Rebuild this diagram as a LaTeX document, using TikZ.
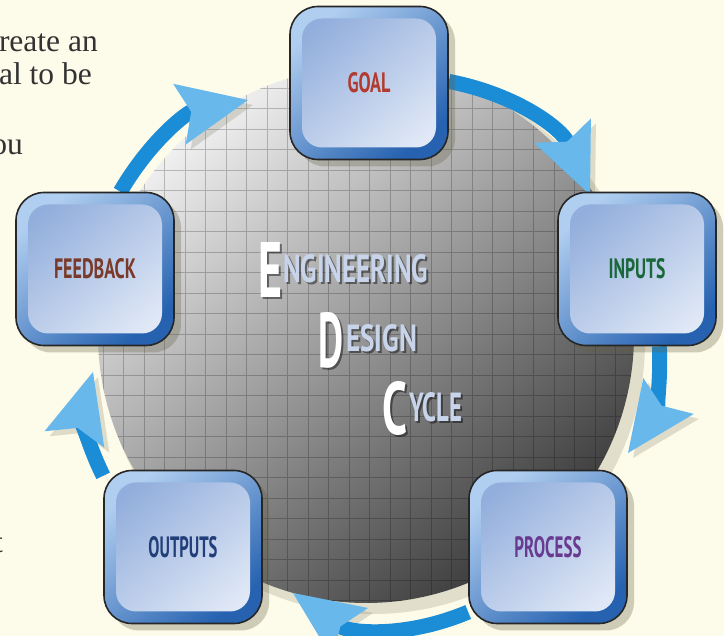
\documentclass[tikz,border=0pt]{standalone}
\usepackage{fontspec}
\usepackage{graphicx}
\newfontfamily\stagefont{PT Sans}
\newfontfamily\titlefont{PT Sans}
\newfontfamily\bodyfont{Liberation Serif}
\usetikzlibrary{arrows.meta,shadows}
\definecolor{paper}{RGB}{253,251,233}
\definecolor{cycblue}{RGB}{27,140,214}
\definecolor{cyclight}{RGB}{105,184,236}
\definecolor{bevlight}{RGB}{176,206,240}
\definecolor{bevdark}{RGB}{38,98,176}
\definecolor{facedark}{RGB}{146,174,220}
\definecolor{facelight}{RGB}{224,232,246}
\definecolor{diskhi}{RGB}{240,240,240}
\definecolor{diskmid}{RGB}{150,150,150}
\definecolor{disklo}{RGB}{60,60,60}
\definecolor{goalred}{RGB}{178,58,46}
\definecolor{inputgreen}{RGB}{26,104,58}
\definecolor{processpurple}{RGB}{104,58,144}
\definecolor{outputblue}{RGB}{34,62,120}
\definecolor{feedbrown}{RGB}{122,58,42}
\definecolor{wordblue}{RGB}{200,212,234}
\pgfdeclarelayer{back}
\pgfdeclarelayer{mid}
\pgfsetlayers{back,mid,main}

\tikzset{
  stage/.style={rounded corners=28pt, minimum width=158pt, minimum height=153pt,
    draw=black!85, line width=1.6pt, inner sep=0pt, font=\stagefont\bfseries,
    top color=bevlight, bottom color=bevdark, shading angle=40,
    drop shadow={shadow xshift=7pt, shadow yshift=-7pt, opacity=.3, fill=black!70!yellow},
    path picture={\shade[top color=facedark, bottom color=facelight, shading angle=40, rounded corners=20pt]
      ([shift={(12pt,12pt)}]path picture bounding box.south west) rectangle
      ([shift={(-12pt,-12pt)}]path picture bounding box.north east);}},
  cycarrow/.style={line width=15pt, cycblue,
    -{Stealth[length=70pt, width=62pt, inset=12pt, line width=0pt, color=cyclight]},
    preaction={draw=black!70!yellow, opacity=.2, transform canvas={shift={(5pt,-5pt)}},
      -{Stealth[length=70pt, width=62pt, inset=12pt, line width=0pt, color=black!70!yellow]}}},
  titleword/.style={font=\titlefont\bfseries, inner sep=0pt, anchor=base west},
  bodytext/.style={font=\bodyfont\fontsize{31.5}{36}\selectfont, text=black!80, inner sep=0pt, anchor=base east},
  gridline/.style={black, opacity=.22, line width=.7pt}
}

\begin{document}
\begin{tikzpicture}[x=1pt, y=1pt]
\useasboundingbox (0,0) rectangle (724,636);
\clip (0,0) rectangle (724,636);

\node[bodytext] (line1) at (98,584) {reate an};
\node[bodytext] (line2) at (92,551) {al to be};
\node[bodytext] (line3) at (23,481) {ou};
\node[bodytext] (line4) at (3,83) {t};

\begin{pgfonlayer}{back}
\fill[paper] (0,0) rectangle (724,636);
\fill[black!70!yellow, opacity=.18] (373,294) circle (272pt);
\shade[top color=diskhi, bottom color=disklo, middle color=diskmid, shading angle=40] (366,301) circle (268pt);
\begin{scope}
\clip (366,301) circle (268pt);
\draw[gridline, shift={(226,404.3)}] (-420,-420) grid[step=20.5] (420,420);
\end{scope}
\foreach \x/\y/\w/\h/\t/\c in {258/338/24/55/E/white, 283/353/145/28/NGINEERING/wordblue,
    318/268/25/55/D/white, 346/284/71/27/ESIGN/wordblue,
    382/201/25/53/C/white, 409/214/53/29/YCLE/wordblue}{
  \node[titleword, text=black, opacity=.45] at (\x+2,\y-2) {\resizebox{\w pt}{\h pt}{\t}};
  \node[titleword, text=\c] (w\t) at (\x,\y) {\resizebox{\w pt}{\h pt}{\t}};
}
\end{pgfonlayer}

\node[stage, text=goalred] (goal) at (369,553) {\resizebox{43pt}{20pt}{GOAL}};
\node[stage, text=inputgreen] (inputs) at (637,367) {\resizebox{57pt}{20pt}{INPUTS}};
\node[stage, text=processpurple] (process) at (548,89) {\resizebox{67pt}{21pt}{PROCESS}};
\node[stage, text=outputblue] (outputs) at (183,89) {\resizebox{69pt}{21pt}{OUTPUTS}};
\node[stage, text=feedbrown] (feedback) at (95,367) {\resizebox{82pt}{20pt}{FEEDBACK}};

\coordinate (tip1) at (590,441);
\coordinate (tip2) at (628,183);
\coordinate (tip3) at (293,43);
\coordinate (tip4) at (93,264);
\coordinate (tip5) at (248,536);

\begin{pgfonlayer}{mid}
\draw[cycarrow] (goal) to[bend left=28] (tip1);
\draw[cycarrow] (inputs) to[bend left=19] (tip2);
\draw[cycarrow] (process) to[bend left=29] (tip3);
\draw[cycarrow] (outputs) to[bend left=21] (tip4);
\draw[cycarrow] (feedback) to[bend left=24] (tip5);
\end{pgfonlayer}

\end{tikzpicture}
\end{document}
